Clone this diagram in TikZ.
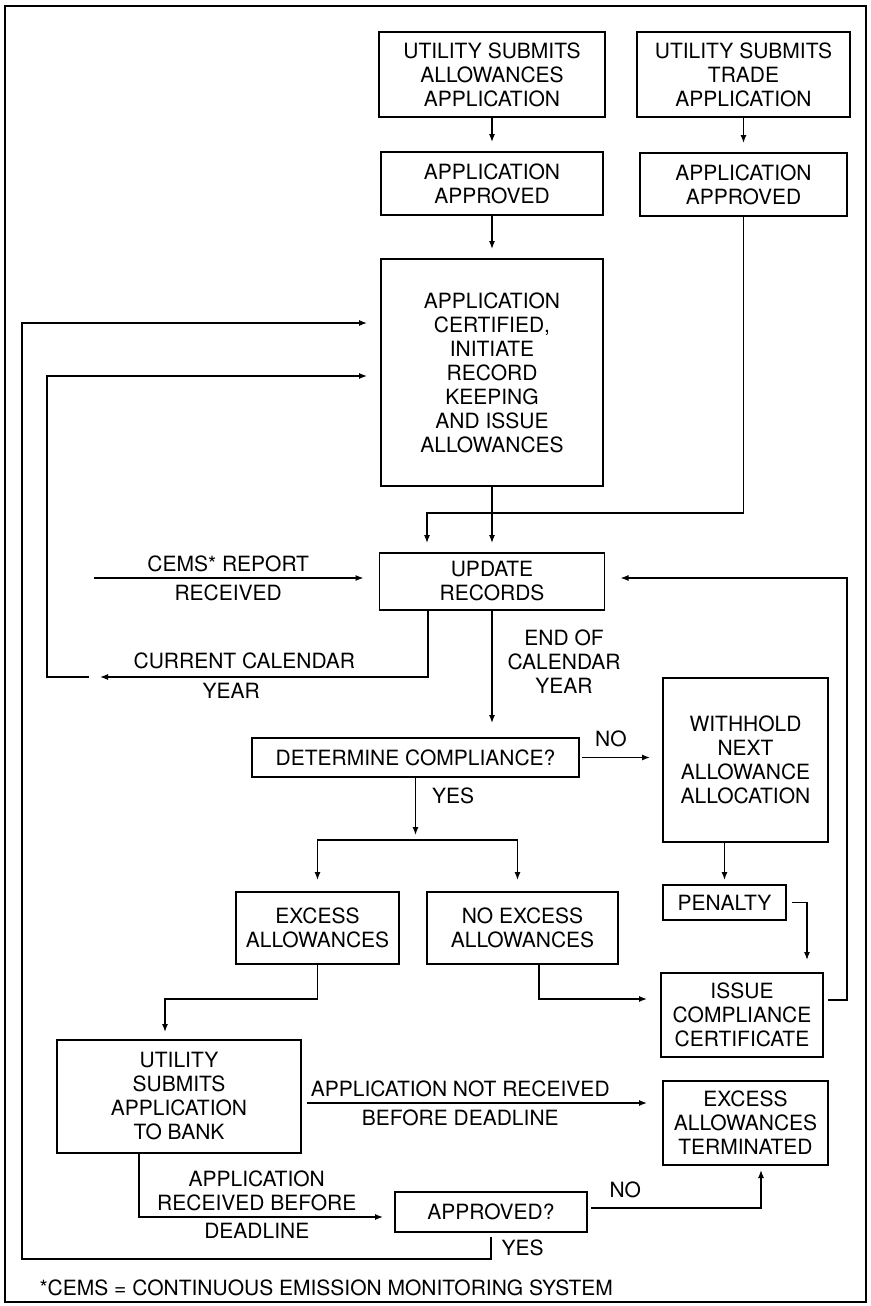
\documentclass[tikz,border=0pt]{standalone}
\usepackage{fontspec}
\setmainfont{TeX Gyre Heros}
\usetikzlibrary{arrows.meta,positioning,calc}
\tikzset{
  >={Latex[length=8pt,width=6pt]},
  box/.style     = {draw, rectangle, line width=1.4pt, align=center, inner sep=2pt, outer sep=0pt},
  post/.style    = {->, line width=1.2pt, shorten >=#1},
  post/.default  = 10pt,
  wire/.style    = {line width=1.2pt},
  tag/.style     = {align=center, inner sep=6pt}
}

\begin{document}
\begin{tikzpicture}[x=1pt, y=-1pt, font=\fontsize{21}{24}\selectfont]
  \useasboundingbox (0,0) rectangle (870,1306);
  \draw[line width=2pt] (5,6) rectangle (866,1302);

  \node[box, minimum width=226pt, minimum height=85pt] (alloc) at (492,74.5) {UTILITY SUBMITS\\ALLOWANCES\\APPLICATION};
  \node[box, minimum width=213pt, minimum height=85pt, right=32pt of alloc] (trade) {UTILITY SUBMITS\\TRADE\\APPLICATION};
  \node[box, minimum width=222pt, minimum height=63pt, below=35pt of alloc] (allocok) {APPLICATION\\APPROVED};
  \node[box, minimum width=207pt, minimum height=63pt, below=36pt of trade] (tradeok) {APPLICATION\\APPROVED};
  \node[box, minimum width=222pt, minimum height=227pt, below=44pt of allocok] (certify) {APPLICATION\\CERTIFIED,\\INITIATE\\RECORD\\KEEPING\\AND ISSUE\\ALLOWANCES};
  \node[box, minimum width=225pt, minimum height=57pt, below=67pt of certify] (update) {UPDATE\\RECORDS};
  \node[box, minimum width=327pt, minimum height=39pt] (comply) at (415.5,757.5) {DETERMINE COMPLIANCE?};
  \node[box, minimum width=165pt, minimum height=164pt] (withhold) at (745.5,760) {WITHHOLD\\NEXT\\ALLOWANCE\\ALLOCATION};
  \node[box, minimum width=123pt, minimum height=35pt] (penalty) at (724.5,902.5) {PENALTY};
  \node[box, minimum width=162pt, minimum height=84pt] (issue) at (742,1015) {ISSUE\\COMPLIANCE\\CERTIFICATE};
  \node[box, minimum width=163pt, minimum height=72pt] (excess) at (317.5,928) {EXCESS\\ALLOWANCES};
  \node[box, minimum width=191pt, minimum height=72pt] (noexcess) at (522.5,928) {NO EXCESS\\ALLOWANCES};
  \node[box, minimum width=244pt, minimum height=113pt] (bank) at (179,1096.5) {UTILITY\\SUBMITS\\APPLICATION\\TO BANK};
  \node[box, minimum width=165pt, minimum height=84pt] (lost) at (745.5,1123) {EXCESS\\ALLOWANCES\\TERMINATED};
  \node[box, minimum width=192pt, minimum height=40pt] (approved) at (491,1212) {APPROVED?};
  \node[anchor=west] (note) at (36,1288) {*CEMS = CONTINUOUS EMISSION MONITORING SYSTEM};

  \coordinate (cems) at (94,578);
  \coordinate (tradejoin) at (427,513);
  \coordinate (curyr) at (100,677);
  \coordinate (curgap) at (89,677);
  \coordinate (curleft) at (47,677);
  \coordinate (yesloop) at (22,1259);
  \coordinate (split) at (415.5,840);
  \coordinate (bankrow) at (165,999);

  \draw[post] (alloc) -- (allocok);
  \draw[post] (trade) -- (tradeok);
  \draw[post] (allocok) -- (certify);
  \draw[post] (certify) -- (update);
  \draw[post] (tradeok.south) |- (tradejoin) -- (tradejoin |- update.north);
  \draw[post=16pt] (cems) -- (cems -| update.west)
    node[tag, pos=0.47, above] {CEMS* REPORT}
    node[tag, pos=0.47, below] {RECEIVED};
  \draw[post=16pt, shorten <=5pt] ([yshift=15pt]issue.east) -- ++(24,0) |- ([yshift=3.5pt]update.east);
  \draw[post=0pt] ([xshift=-64pt]update.south) |- (curyr)
    node[tag, pos=0.78, above=2pt] {CURRENT CALENDAR}
    node[tag, pos=0.80, below] {YEAR};
  \draw[post=14pt] (curgap) -- (curleft) |- ([yshift=-3.5pt]certify.west);
  \draw[post=15pt] (update) -- (update |- comply.north)
    node[tag, pos=0.4, right, xshift=9pt] {END OF\\CALENDAR\\YEAR};
  \draw[post=13pt, shorten <=3pt] (comply.east) -- (comply.east -| withhold.west)
    node[tag, pos=0.38, above=4pt] {NO};
  \draw[post=5pt] (comply) -- (split)
    node[tag, pos=0.3, right, xshift=10pt] {YES};
  \draw[post=12pt] (split) -| (excess);
  \draw[post=12pt] (split) -| ([xshift=-5pt]noexcess.north);
  \draw[post=5pt] (withhold.south -| penalty) -- (penalty);
  \draw[post=13pt, shorten <=6pt] (penalty.east) -| ([xshift=65pt]issue.north);
  \draw[post=8pt] (excess.south) |- (bankrow) -- (bankrow |- bank.north);
  \draw[post=14pt] ([xshift=16.5pt]noexcess.south) |- ([yshift=16pt]issue.west);
  \draw[post=16pt, shorten <=6pt] ([yshift=-6.5pt]bank.east) -- ([yshift=-6.5pt]bank.east -| lost.west)
    node[tag, pos=0.44, above] {APPLICATION NOT RECEIVED}
    node[tag, pos=0.44, below] {BEFORE DEADLINE};
  \draw[post=12pt] ([xshift=-40pt]bank.south) |- ([yshift=-5pt]approved.west)
    node[tag, pos=0.73, above] {APPLICATION\\RECEIVED BEFORE}
    node[tag, pos=0.73, below] {DEADLINE};
  \draw[post=5pt, shorten <=4pt] ([yshift=4pt]approved.east) -| ([xshift=15.5pt]lost.south)
    node[tag, pos=0.11, above=4pt] {NO};
  \draw[post=14pt, shorten <=5pt] (approved.south) |- (yesloop)
    node[tag, pos=0.3, right, xshift=4pt] {YES}
    |- ([yshift=49.5pt]certify.west);
\end{tikzpicture}
\end{document}
